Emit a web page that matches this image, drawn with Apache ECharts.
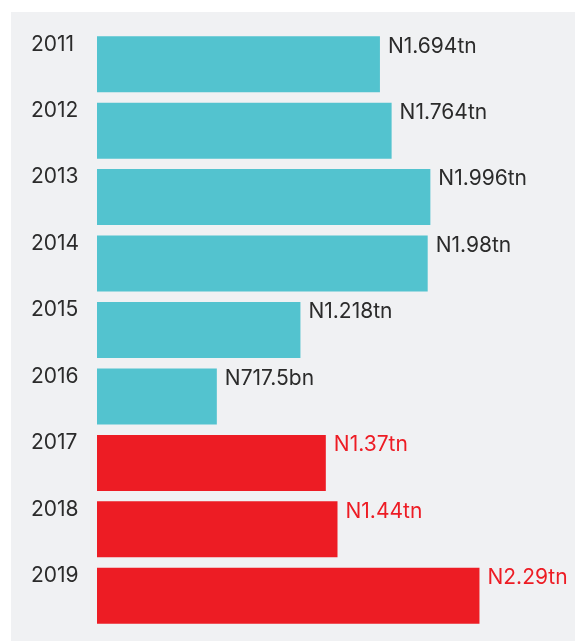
<!DOCTYPE html>
<html>
<head>
<meta charset="utf-8">
<script src="https://cdn.jsdelivr.net/npm/echarts@6/dist/echarts.min.js"></script>
<style>
html, body { margin: 0; padding: 0; background: #ffffff; }
#chart { width: 575px; height: 641px; }
</style>
</head>
<body>
<div id="chart"></div>
<script>
// years, top to bottom
var years = ['2011', '2012', '2013', '2014', '2015', '2016', '2017', '2018', '2019']
// values in trillion naira
var values = [1.694, 1.764, 1.996, 1.98, 1.218, 0.7175, 1.37, 1.44, 2.29]
var valueLabels = ['N1.694tn', 'N1.764tn', 'N1.996tn', 'N1.98tn', 'N1.218tn', 'N717.5bn', 'N1.37tn', 'N1.44tn', 'N2.29tn']
// first red year
var redFrom = 6

var teal = '#53c3cf'
var red = '#ed1c24'
var font = 'Inter'

var chart = echarts.init(document.getElementById('chart'))

var data = values.map(function (v, i) {
  var isRed = i >= redFrom
  return {
    value: v,
    itemStyle: { color: isRed ? red : teal },
    label: { color: isRed ? red : '#2b2b2b' }
  }
})

chart.setOption({
  animation: false,
  graphic: [{
    type: 'rect',
    z: -10,
    shape: { x: 11, y: 12, width: 575, height: 641 },
    style: { fill: '#f0f1f3' }
  }],
  grid: { left: 97, right: 2, top: 31, bottom: 12 },
  xAxis: {
    type: 'value',
    min: 0,
    max: 2.85,
    show: false
  },
  yAxis: {
    type: 'category',
    inverse: true,
    data: years,
    axisLine: { show: false },
    axisTick: { show: false },
    splitLine: { show: false },
    axisLabel: {
      align: 'left',
      margin: 66,
      verticalAlign: 'bottom',
      lineHeight: 40,
      color: '#2b2b2b',
      fontFamily: font,
      fontSize: 21
    }
  },
  series: [{
    type: 'bar',
    barWidth: 56,
    data: data,
    label: {
      show: true,
      position: 'right',
      distance: 8,
      offset: [0, -18],
      fontFamily: font,
      fontSize: 21,
      formatter: function (p) { return valueLabels[p.dataIndex] }
    }
  }]
})
</script>
</body>
</html>
